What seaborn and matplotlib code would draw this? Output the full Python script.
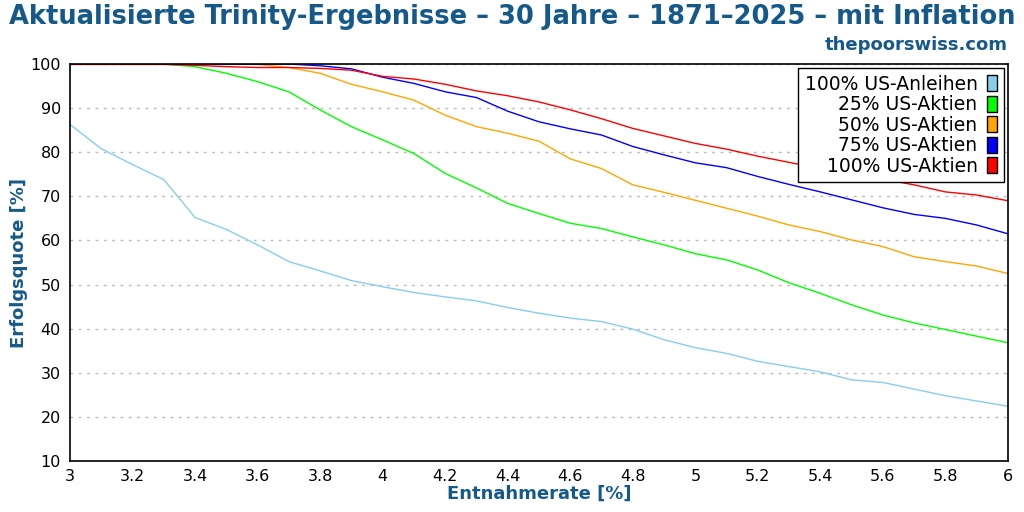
import seaborn as sns
import matplotlib.pyplot as plt
import pandas as pd
from matplotlib.patches import Patch

# Entnahmerate in % (3.0 .. 6.0)
rates = [3.0, 3.1, 3.2, 3.3, 3.4, 3.5, 3.6, 3.7, 3.8, 3.9,
         4.0, 4.1, 4.2, 4.3, 4.4, 4.5, 4.6, 4.7, 4.8, 4.9,
         5.0, 5.1, 5.2, 5.3, 5.4, 5.5, 5.6, 5.7, 5.8, 5.9, 6.0]

bonds_100 = [86.3, 80.8, 77.2, 73.8, 65.2, 62.5, 59.0, 55.2, 53.1, 50.9,
             49.5, 48.2, 47.2, 46.3, 44.8, 43.5, 42.4, 41.6, 39.9, 37.5,
             35.7, 34.4, 32.6, 31.4, 30.2, 28.4, 27.8, 26.3, 24.8, 23.6, 22.4]
stocks_25 = [100.0, 100.0, 100.0, 100.0, 99.4, 97.9, 96.0, 93.7, 89.6, 85.8,
             82.8, 79.7, 75.2, 71.9, 68.4, 66.1, 63.9, 62.7, 60.8, 59.0,
             57.0, 55.6, 53.3, 50.4, 48.0, 45.4, 43.1, 41.3, 39.8, 38.3, 36.8]
stocks_50 = [100.0, 100.0, 100.0, 100.0, 100.0, 100.0, 99.9, 99.2, 97.9, 95.4,
             93.7, 91.8, 88.4, 85.8, 84.3, 82.5, 78.5, 76.3, 72.6, 70.9,
             69.1, 67.3, 65.5, 63.5, 62.0, 60.1, 58.6, 56.3, 55.2, 54.2, 52.5]
stocks_75 = [100.0, 100.0, 100.0, 100.0, 100.0, 100.0, 100.0, 100.0, 99.6, 98.9,
             97.0, 95.6, 93.7, 92.4, 89.3, 86.9, 85.3, 83.9, 81.3, 79.4,
             77.6, 76.5, 74.5, 72.7, 71.0, 69.2, 67.4, 65.9, 65.0, 63.5, 61.5]
stocks_100 = [99.9, 99.9, 99.9, 99.9, 99.7, 99.4, 99.2, 99.2, 99.0, 98.6,
              97.2, 96.6, 95.4, 93.9, 92.8, 91.4, 89.6, 87.6, 85.4, 83.7,
              82.0, 80.7, 79.1, 77.7, 76.3, 75.0, 73.9, 72.6, 71.0, 70.3, 69.0]

labels = ['100% US-Anleihen', '25% US-Aktien', '50% US-Aktien',
          '75% US-Aktien', '100% US-Aktien']
colors = ['#87ceeb', '#00ff00', '#ffa500', '#0000ff', '#ff0000']
series = [bonds_100, stocks_25, stocks_50, stocks_75, stocks_100]

frames = [pd.DataFrame({'rate': rates, 'success': s, 'portfolio': lab})
          for lab, s in zip(labels, series)]
df = pd.concat(frames, ignore_index=True)

blue_txt = '#15598a'

sns.set_style('white')
plt.rcParams['font.family'] = ['DejaVu Sans']

fig = plt.figure(figsize=(10.24, 5.12), dpi=100)
ax = fig.add_axes([70 / 1024, 1 - 461 / 512, 938 / 1024, 397 / 512])

sns.lineplot(data=df, x='rate', y='success', hue='portfolio',
             palette=dict(zip(labels, colors)), linewidth=1, ax=ax,
             legend=False)

ax.set_xlim(3, 6)
ax.set_ylim(10, 100)
ax.set_xticks([3, 3.2, 3.4, 3.6, 3.8, 4, 4.2, 4.4, 4.6, 4.8,
               5, 5.2, 5.4, 5.6, 5.8, 6])
ax.set_xticklabels(['3', '3.2', '3.4', '3.6', '3.8', '4', '4.2', '4.4', '4.6',
                    '4.8', '5', '5.2', '5.4', '5.6', '5.8', '6'])
ax.set_yticks(range(10, 101, 10))
ax.tick_params(direction='inout', length=9, width=1.2, labelsize=11.5,
               colors='black', labelcolor='black', pad=2)
ax.tick_params(axis='x', pad=1)
ax.yaxis.grid(True, linestyle=(0, (2, 4)), color='#bbbbbb', linewidth=1)
for sp in ax.spines.values():
    sp.set_color('black')
    sp.set_linewidth(1.2)

ax.set_xlabel('Entnahmerate [%]', fontsize=13, fontweight='bold',
              color=blue_txt, labelpad=1)
ax.set_ylabel('Erfolgsquote [%]', fontsize=13, fontweight='bold',
              color=blue_txt, labelpad=2)

fig.text(0.5, 1 - 17 / 512,
         'Aktualisierte Trinity-Ergebnisse – 30 Jahre – 1871–2025 – mit Inflation',
         ha='center', va='center', fontsize=18.5, fontweight='bold',
         color=blue_txt)
fig.text(1008 / 1024, 1 - 45 / 512, 'thepoorswiss.com', ha='right',
         va='center', fontsize=13, fontweight='bold', color=blue_txt)

handles = [Patch(facecolor=c, edgecolor='black', linewidth=1) for c in colors]
leg = ax.legend(handles, labels, loc='upper right', markerfirst=False,
                fontsize=13.5, frameon=True, fancybox=False,
                handlelength=0.55, handleheight=0.95, labelspacing=0.08,
                handletextpad=0.5, borderpad=0.35, borderaxespad=0.22)
leg.get_frame().set_edgecolor('black')
leg.get_frame().set_linewidth(1)
leg.get_frame().set_alpha(1)
for t in leg.get_texts():
    t.set_ha('right')
    t.set_color('black')
leg._legend_box.align = 'right'

fig.savefig('out.png', dpi=100)
